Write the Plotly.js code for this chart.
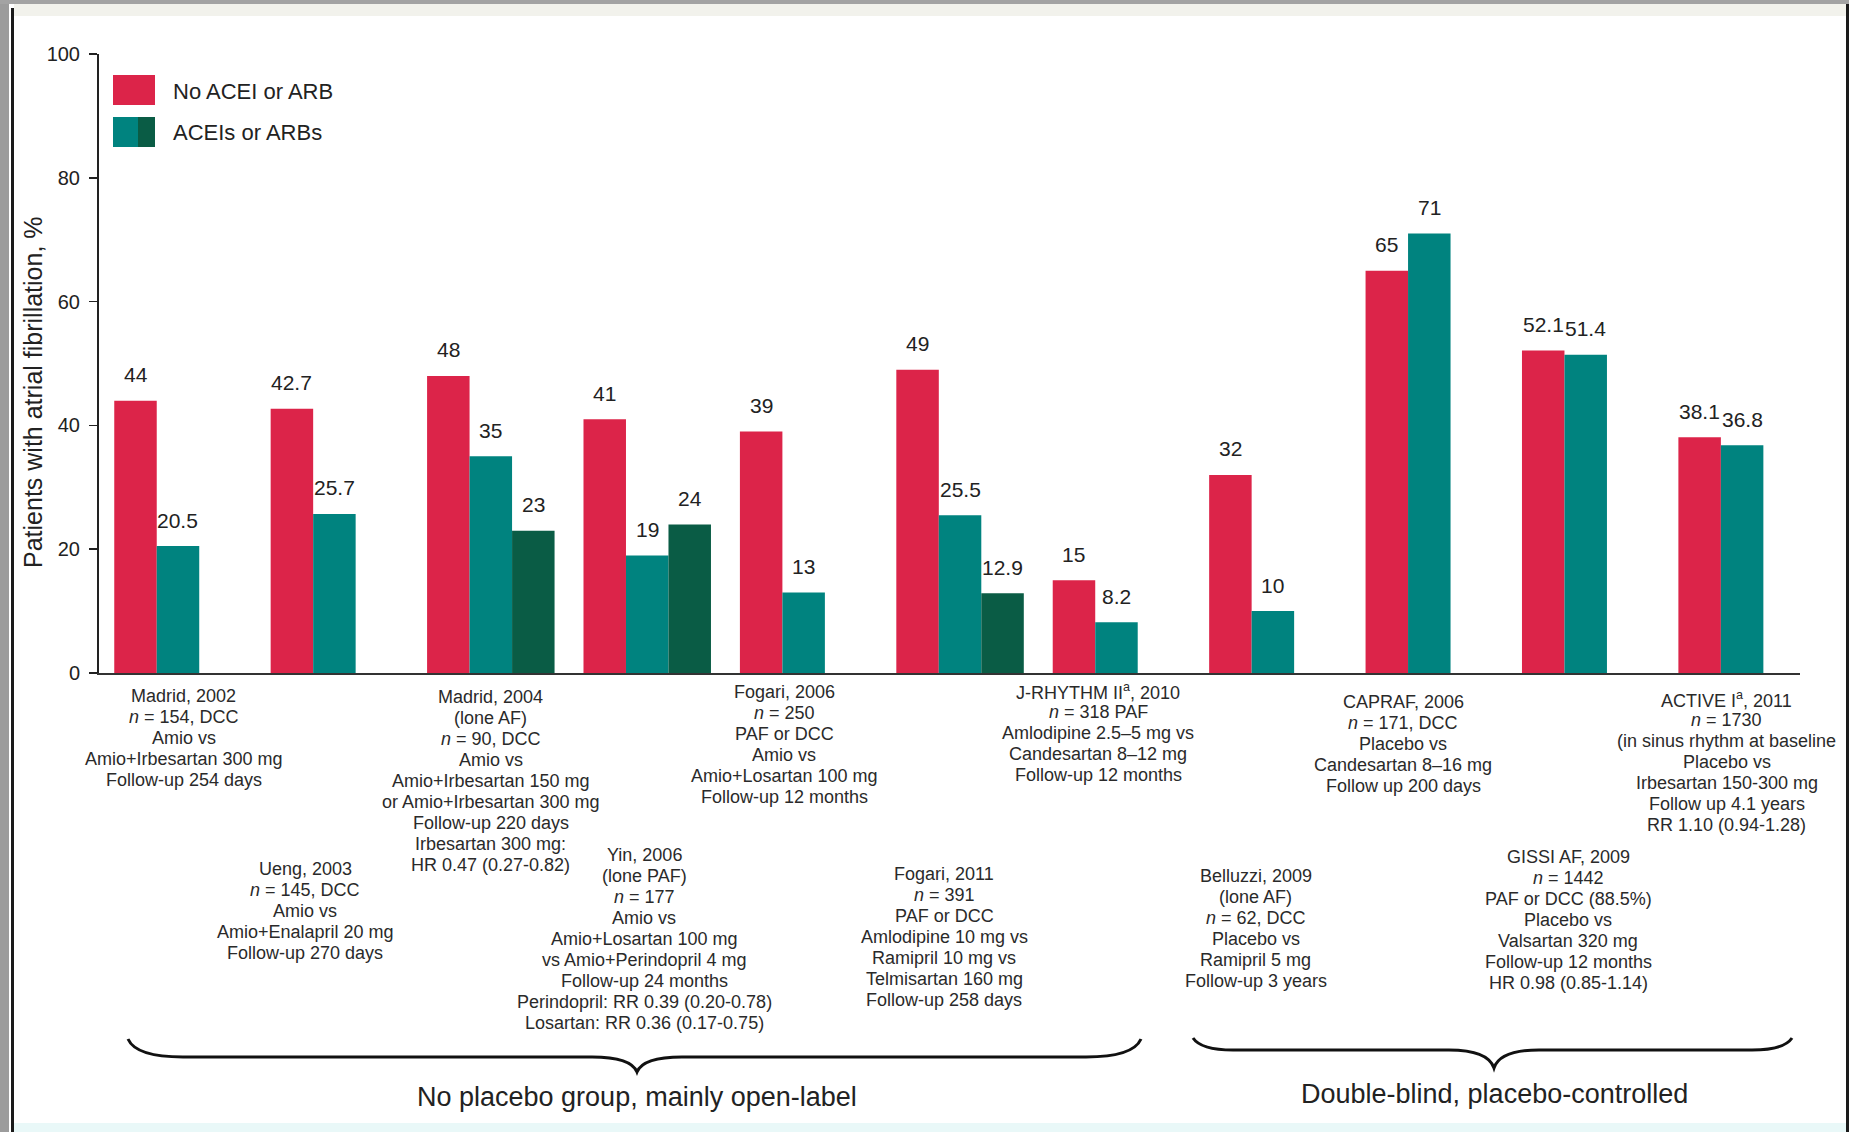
<!DOCTYPE html>
<html>
<head>
<meta charset="utf-8">
<script src="https://cdn.plot.ly/plotly-3.0.1.min.js"></script>
<style>
  html, body { margin: 0; padding: 0; background: #ffffff; }
  #chart { width: 1849px; height: 1132px; }
</style>
</head>
<body>
<div id="chart"></div>
<script>
// ---------------- DATA ----------------
const studies = ['Madrid, 2002', 'Ueng, 2003', 'Madrid, 2004', 'Yin, 2006', 'Fogari, 2006',
  'Fogari, 2011', 'J-RHYTHM II, 2010', 'Belluzzi, 2009', 'CAPRAF, 2006', 'GISSI AF, 2009', 'ACTIVE I, 2011'];
const noAceiArb   = [44, 42.7, 48, 41, 39, 49, 15, 32, 65, 52.1, 38.1];
const aceiArb     = [20.5, 25.7, 35, 19, 13, 25.5, 8.2, 10, 71, 51.4, 36.8];
const aceiArb2    = [null, null, 23, 24, null, 12.9, null, null, null, null, null];
const seriesNames = ['No ACEI or ARB', 'ACEIs or ARBs'];
const yTicks = [0, 20, 40, 60, 80, 100];
const yTitle = 'Patients with atrial fibrillation, %';
const groupLabels = ['No placebo group, mainly open-label', 'Double-blind, placebo-controlled'];

const details = [
  ['Madrid, 2002', '<i>n</i> = 154, DCC', 'Amio vs', 'Amio+Irbesartan 300 mg', 'Follow-up 254 days'],
  ['Ueng, 2003', '<i>n</i> = 145, DCC', 'Amio vs', 'Amio+Enalapril 20 mg', 'Follow-up 270 days'],
  ['Madrid, 2004', '(lone AF)', '<i>n</i> = 90, DCC', 'Amio vs', 'Amio+Irbesartan 150 mg',
   'or Amio+Irbesartan 300 mg', 'Follow-up 220 days', 'Irbesartan 300 mg:', 'HR 0.47 (0.27-0.82)'],
  ['Yin, 2006', '(lone PAF)', '<i>n</i> = 177', 'Amio vs', 'Amio+Losartan 100 mg', 'vs Amio+Perindopril 4 mg',
   'Follow-up 24 months', 'Perindopril: RR 0.39 (0.20-0.78)', 'Losartan: RR 0.36 (0.17-0.75)'],
  ['Fogari, 2006', '<i>n</i> = 250', 'PAF or DCC', 'Amio vs', 'Amio+Losartan 100 mg', 'Follow-up 12 months'],
  ['Fogari, 2011', '<i>n</i> = 391', 'PAF or DCC', 'Amlodipine 10 mg vs', 'Ramipril 10 mg vs',
   'Telmisartan 160 mg', 'Follow-up 258 days'],
  ['J-RHYTHM II<sup>a</sup>, 2010', '<i>n</i> = 318 PAF', 'Amlodipine 2.5–5 mg vs', 'Candesartan 8–12 mg', 'Follow-up 12 months'],
  ['Belluzzi, 2009', '(lone AF)', '<i>n</i> = 62, DCC', 'Placebo vs', 'Ramipril 5 mg', 'Follow-up 3 years'],
  ['CAPRAF, 2006', '<i>n</i> = 171, DCC', 'Placebo vs', 'Candesartan 8–16 mg', 'Follow up 200 days'],
  ['GISSI AF, 2009', '<i>n</i> = 1442', 'PAF or DCC (88.5%)', 'Placebo vs', 'Valsartan 320 mg',
   'Follow-up 12 months', 'HR 0.98 (0.85-1.14)'],
  ['ACTIVE I<sup>a</sup>, 2011', '<i>n</i> = 1730', '(in sinus rhythm at baseline', 'Placebo vs',
   'Irbesartan 150-300 mg', 'Follow up 4.1 years', 'RR 1.10 (0.94-1.28)']
];

// ---------------- STYLE / LAYOUT CONSTANTS ----------------
const RED = '#dc2449', TEAL = '#00837f', DKGREEN = '#0a5c45';
const FONT = 'Liberation Sans, Arial, Helvetica, sans-serif';
const TXT = '#222222';
const W = 1849, H = 1132;
const PL = 99, PR = 1800, PT = 54, PB = 673;   // plot area in pixels
const BARGAP = 0.185;
const slotW = (1 - BARGAP) / 3;
// pixel -> paper helpers
const xp = X => (X - PL) / (PR - PL);
const yp = Y => (PB - Y) / (PB - PT);

// first-line centre (px) of each description block, horizontal nudges (px), line step (px)
const descLineY = [696, 869, 697, 855, 692, 874, 691, 876, 702, 857, 699];
const descXShift = [27, -8, 0, -3, 2, -16, 3, 4, -5, 4, 6];
const LINE_STEP = 21;

const cats = studies.map((s, i) => i);

const traces = [
  { type: 'bar', x: cats, y: noAceiArb, name: seriesNames[0], marker: { color: RED }, hoverinfo: 'y' },
  { type: 'bar', x: cats, y: aceiArb, name: seriesNames[1], marker: { color: TEAL }, hoverinfo: 'y' },
  { type: 'bar', x: cats, y: aceiArb2, name: seriesNames[1] + ' (2)', marker: { color: DKGREEN }, hoverinfo: 'y', showlegend: false }
];

const annotations = [];
// value labels above bars
[noAceiArb, aceiArb, aceiArb2].forEach((arr, j) => {
  arr.forEach((v, i) => {
    if (v === null) return;
    annotations.push({
      x: i + (j - 1) * slotW, y: v, xref: 'x', yref: 'y',
      text: String(v), showarrow: false, yanchor: 'middle', yshift: 26,
      font: { family: FONT, size: 21, color: TXT }
    });
  });
});
// description blocks, one annotation per line for tight line spacing
details.forEach((lines, i) => {
  const nBars = aceiArb2[i] === null ? 2 : 3;
  const cx = i + (nBars === 2 ? -0.5 * slotW : 0);
  lines.forEach((line, k) => {
    annotations.push({
      x: cx, xref: 'x', y: yp(descLineY[i] + k * LINE_STEP), yref: 'paper',
      text: line, showarrow: false, xanchor: 'center', yanchor: 'middle', align: 'center',
      xshift: descXShift[i],
      font: { family: FONT, size: 18, color: '#2a2a2a' }
    });
  });
});
// group labels under the braces
annotations.push({ x: xp(637), y: yp(1097), xref: 'paper', yref: 'paper', text: groupLabels[0],
  showarrow: false, xanchor: 'center', yanchor: 'middle', font: { family: FONT, size: 27, color: TXT } });
annotations.push({ x: xp(1494), y: yp(1094), xref: 'paper', yref: 'paper', text: groupLabels[1],
  showarrow: false, xanchor: 'center', yanchor: 'middle', font: { family: FONT, size: 27, color: TXT } });
// y axis title
annotations.push({ x: xp(33), y: yp(392), xref: 'paper', yref: 'paper', text: yTitle, textangle: -90,
  showarrow: false, xanchor: 'center', yanchor: 'middle', font: { family: FONT, size: 25, color: TXT } });
// legend texts
annotations.push({ x: xp(171), y: yp(91), xref: 'paper', yref: 'paper', text: seriesNames[0],
  showarrow: false, xanchor: 'left', yanchor: 'middle', font: { family: FONT, size: 22, color: TXT } });
annotations.push({ x: xp(171), y: yp(132), xref: 'paper', yref: 'paper', text: seriesNames[1],
  showarrow: false, xanchor: 'left', yanchor: 'middle', font: { family: FONT, size: 22, color: TXT } });

// braces
function brace(x1, x2, xm, yEnd, yLine, yTip, endW) {
  const P = (X, Y) => xp(X).toFixed(5) + ',' + yp(Y).toFixed(5);
  return 'M' + P(x1, yEnd) +
    ' Q' + P(x1 + 8, yLine) + ' ' + P(x1 + endW, yLine) +
    ' L' + P(xm - 45, yLine) +
    ' Q' + P(xm - 6, yLine) + ' ' + P(xm, yTip) +
    ' Q' + P(xm + 6, yLine) + ' ' + P(xm + 45, yLine) +
    ' L' + P(x2 - endW, yLine) +
    ' Q' + P(x2 - 8, yLine) + ' ' + P(x2, yEnd);
}

const shapes = [
  // screenshot frame artefacts
  { type: 'rect', xref: 'paper', yref: 'paper', x0: xp(0), x1: xp(9), y0: yp(0), y1: yp(H), fillcolor: '#9c9c9c', line: { width: 0 }, layer: 'below' },
  { type: 'rect', xref: 'paper', yref: 'paper', x0: xp(0), x1: xp(W), y0: yp(0), y1: yp(4), fillcolor: '#a3a3a3', line: { width: 0 }, layer: 'below' },
  { type: 'rect', xref: 'paper', yref: 'paper', x0: xp(14), x1: xp(1846), y0: yp(4), y1: yp(16), fillcolor: '#f2f2ec', line: { width: 0 }, layer: 'below' },
  { type: 'rect', xref: 'paper', yref: 'paper', x0: xp(11), x1: xp(14), y0: yp(8), y1: yp(H), fillcolor: '#1a1a1a', line: { width: 0 }, layer: 'below' },
  { type: 'rect', xref: 'paper', yref: 'paper', x0: xp(1846), x1: xp(W), y0: yp(4), y1: yp(H), fillcolor: '#1a1a1a', line: { width: 0 }, layer: 'below' },
  { type: 'rect', xref: 'paper', yref: 'paper', x0: xp(14), x1: xp(1846), y0: yp(1123), y1: yp(H), fillcolor: '#e9f8f8', line: { width: 0 }, layer: 'below' },
  // legend swatches
  { type: 'rect', xref: 'paper', yref: 'paper', x0: xp(113), x1: xp(155), y0: yp(75), y1: yp(105), fillcolor: RED, line: { width: 0 } },
  { type: 'rect', xref: 'paper', yref: 'paper', x0: xp(113), x1: xp(138), y0: yp(117), y1: yp(147), fillcolor: TEAL, line: { width: 0 } },
  { type: 'rect', xref: 'paper', yref: 'paper', x0: xp(138), x1: xp(155), y0: yp(117), y1: yp(147), fillcolor: DKGREEN, line: { width: 0 } },
  // braces
  { type: 'path', xref: 'paper', yref: 'paper', path: brace(128, 1141, 637, 1039, 1057, 1072, 55), line: { color: '#111', width: 3 } },
  { type: 'path', xref: 'paper', yref: 'paper', path: brace(1193, 1792, 1494, 1038, 1050, 1068, 40), line: { color: '#111', width: 3 } }
];

const layout = {
  width: W, height: H,
  margin: { l: PL, r: W - PR, t: PT, b: H - PB, pad: 0 },
  paper_bgcolor: '#ffffff', plot_bgcolor: '#ffffff',
  barmode: 'group', bargap: BARGAP, bargroupgap: 0,
  showlegend: false,
  font: { family: FONT, color: TXT },
  xaxis: {
    type: 'linear', range: [-0.505, 10.37], showgrid: false, zeroline: false,
    showticklabels: false, ticks: '', showline: true, linecolor: '#333', linewidth: 2, fixedrange: true
  },
  yaxis: {
    range: [0, 100], tickvals: yTicks, ticktext: yTicks.map(String), showgrid: false, zeroline: false,
    showline: true, linecolor: '#222', linewidth: 2, ticks: 'outside', ticklen: 8, tickwidth: 1.5,
    tickcolor: '#222', ticklabelstandoff: 5, tickfont: { family: FONT, size: 20, color: TXT }, fixedrange: true
  },
  annotations: annotations,
  shapes: shapes
};

Plotly.newPlot('chart', traces, layout, { displayModeBar: false, staticPlot: true });
</script>
</body>
</html>
